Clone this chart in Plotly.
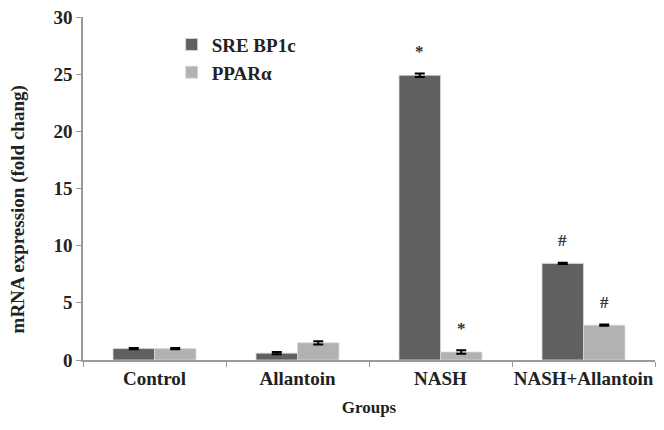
import plotly.graph_objects as go

groups = ["Control", "Allantoin", "NASH", "NASH+Allantoin"]
srebp1c = [1.0, 0.6, 24.9, 8.45]
srebp1c_err = [0.05, 0.1, 0.15, 0.05]
ppara = [1.0, 1.5, 0.7, 3.05]
ppara_err = [0.05, 0.15, 0.15, 0.05]
srebp1c_marks = ["", "", "*", "#"]
ppara_marks = ["", "", "*", "#"]

FONT = "Liberation Serif"
DARK = "#606060"
LIGHT = "#b2b2b2"

fig = go.Figure()
fig.add_trace(go.Bar(
    x=groups, y=srebp1c, name="<b>SRE BP1c</b>",
    marker=dict(color=DARK, line=dict(color="#d8d8d8", width=0.8)),
    error_y=dict(type="data", array=srebp1c_err, color="black", thickness=2, width=5),
))
fig.add_trace(go.Bar(
    x=groups, y=ppara, name="<b>PPARα</b>",
    marker=dict(color=LIGHT, line=dict(color="#d8d8d8", width=0.8)),
    error_y=dict(type="data", array=ppara_err, color="black", thickness=2, width=5),
))

# significance marks above bars
for vals, errs, marks, shift in [(srebp1c, srebp1c_err, srebp1c_marks, -20.7),
                                  (ppara, ppara_err, ppara_marks, 20.7)]:
    for g, v, e, m in zip(groups, vals, errs, marks):
        if m:
            fig.add_annotation(x=g, y=v + e, text="<b>" + m + "</b>", showarrow=False,
                               xshift=shift, yshift=22, yanchor="middle",
                               font=dict(family=FONT, size=17, color="#333"))

# y-axis title (placed as annotation to match reference position)
fig.add_annotation(xref="paper", yref="paper", x=-0.113, y=0.44,
                   text="<b>mRNA expression (fold chang)</b>", textangle=-90,
                   showarrow=False, xanchor="center", yanchor="middle",
                   font=dict(family=FONT, size=19, color="#222"))

fig.update_layout(
    width=664, height=430,
    margin=dict(l=75, r=17, t=9, b=78),
    paper_bgcolor="white", plot_bgcolor="white",
    barmode="group", bargap=0.42, bargroupgap=0,
    font=dict(family=FONT, size=16, color="#222"),
    showlegend=True,
    legend=dict(x=0.155, y=0.975, xanchor="left", yanchor="top",
                bgcolor="rgba(0,0,0,0)", font=dict(family=FONT, size=19, color="#222"),
                tracegroupgap=4, itemwidth=30),
    xaxis=dict(
        title=dict(text="<b>Groups</b>", font=dict(family=FONT, size=17), standoff=14),
        automargin=False, tickangle=0,
        showline=True, linecolor="#9a9a9a", linewidth=1.5,
        ticks="outside", tickson="boundaries", ticklen=5, tickcolor="#9a9a9a",
        tickfont=dict(family=FONT, size=19, color="#222"),
        tickprefix="<b>", ticksuffix="</b>",
    ),
    yaxis=dict(
        automargin=False, ticklabeloverflow="allow",
        range=[0, 30], dtick=5, showgrid=False, zeroline=False,
        showline=True, linecolor="#9a9a9a", linewidth=1.5,
        ticks="outside", ticklen=5, tickcolor="#9a9a9a",
        tickfont=dict(family=FONT, size=19, color="#222"),
        tickprefix="<b>", ticksuffix="</b>",
    ),
)

fig.write_html("out.html")
